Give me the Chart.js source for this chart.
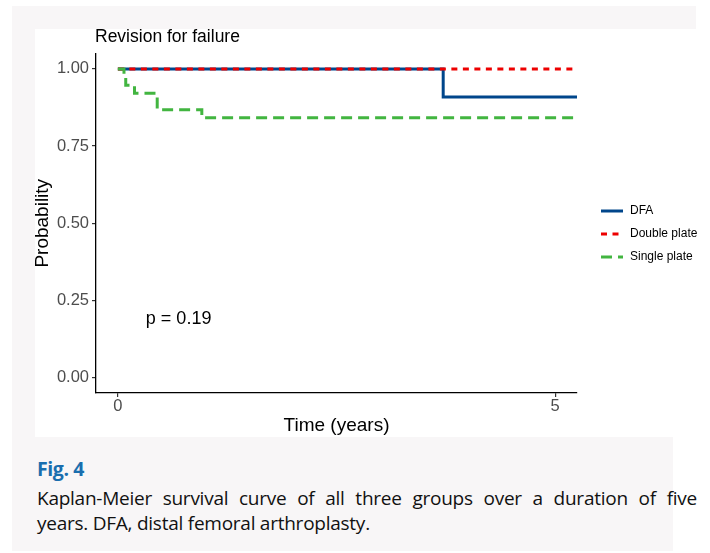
<!DOCTYPE html>
<html>
<head>
<meta charset="utf-8">
<script src="https://cdn.jsdelivr.net/npm/chart.js@4/dist/chart.umd.min.js"></script>
<style>
  html, body { margin:0; padding:0; background:#ffffff; }
  body { width:710px; height:553px; position:relative; overflow:hidden; }
  .g { position:absolute; background:#f8f6f7; }
  #panel { position:absolute; left:35px; top:29px; width:675px; height:408px; background:#ffffff; }
  #c { position:absolute; left:0; top:0; }
  #fig { position:absolute; left:37px; top:455px; font-family:"Open Sans","Noto Sans",sans-serif; font-weight:700; font-size:19.5px; color:#1a6eae; letter-spacing:-0.4px; }
  .cap { position:absolute; left:37px; width:660px; font-family:"Open Sans","Noto Sans",sans-serif; font-size:19px; color:#111; white-space:nowrap; letter-spacing:-0.25px; line-height:25px; }
  #l1 { top:486px; text-align:justify; text-align-last:justify; white-space:normal; }
  #l2 { top:511px; }
</style>
</head>
<body>
<div class="g" style="left:12px;top:6px;width:684px;height:23px"></div>
<div class="g" style="left:12px;top:6px;width:23px;height:545px"></div>
<div class="g" style="left:12px;top:437px;width:661px;height:114px"></div>
<div id="panel"></div>
<canvas id="c" width="710" height="437"></canvas>
<div id="fig">Fig. 4</div>
<div class="cap" id="l1">Kaplan-Meier survival curve of all three groups over a duration of five</div>
<div class="cap" id="l2">years. DFA, distal femoral arthroplasty.</div>
<script>
// ---- data ----
const groupNames = ["DFA", "Double plate", "Single plate"];
const dfaTime = [0, 3.72, 5.25];
const dfaSurv = [1, 0.909, 0.909];
const doubleTime = [0, 5.25];
const doubleSurv = [1, 1];
const singleTime = [0, 0.07, 0.09, 0.19, 0.45, 0.96, 5.25];
const singleSurv = [1, 0.974, 0.947, 0.921, 0.868, 0.842, 0.842];
const xTicks = [0, 5];
const yTicks = [0, 0.25, 0.5, 0.75, 1];
const pvalText = "p = 0.19";
const pvalPos = [0.32, 0.19];
const chartTitle = "Revision for failure";

const toPts = (t, s) => t.map((v, i) => ({ x: v, y: s[i] }));

const FONT = "'Liberation Sans', Arial, Helvetica, sans-serif";

const overlay = {
  id: 'overlay',
  afterDraw(chart) {
    const ctx = chart.ctx;
    const xs = chart.scales.x, ys = chart.scales.y;
    ctx.save();
    ctx.fillStyle = '#000';
    ctx.font = "17.5px " + FONT;
    ctx.textBaseline = 'middle';
    ctx.textAlign = 'left';
    ctx.fillText(chartTitle, chart.chartArea.left - 1, 37);
    ctx.font = "18px " + FONT;
    ctx.fillText(pvalText, xs.getPixelForValue(pvalPos[0]), ys.getPixelForValue(pvalPos[1]));
    ctx.font = "12px " + FONT;
    chart.data.datasets.forEach((ds, i) => {
      const y = 211 + 23 * i;
      ctx.beginPath();
      ctx.strokeStyle = ds.borderColor;
      ctx.lineWidth = 3;
      ctx.lineCap = 'butt';
      ctx.setLineDash(ds.borderDash || []);
      ctx.moveTo(601, y);
      ctx.lineTo(623, y);
      ctx.stroke();
      ctx.setLineDash([]);
      ctx.fillStyle = '#000';
      ctx.fillText(ds.label, 630, y);
    });
    ctx.restore();
  }
};

new Chart(document.getElementById('c'), {
  type: 'line',
  data: {
    datasets: [
      { label: groupNames[0], data: toPts(dfaTime, dfaSurv), borderColor: '#00468B', borderWidth: 3, stepped: 'before', pointRadius: 0, order: 3, borderCapStyle: 'butt' },
      { label: groupNames[1], data: toPts(doubleTime, doubleSurv), borderColor: '#ED0000', borderWidth: 3, borderDash: [6, 5.5], stepped: 'before', pointRadius: 0, order: 2, borderCapStyle: 'butt' },
      { label: groupNames[2], data: toPts(singleTime, singleSurv), borderColor: '#42B540', borderWidth: 3, borderDash: [11, 6], stepped: 'before', pointRadius: 0, order: 1, borderCapStyle: 'butt' }
    ]
  },
  options: {
    responsive: false,
    animation: false,
    devicePixelRatio: 1,
    layout: { padding: { left: 30, top: 53.5, right: 133, bottom: 0 } },
    plugins: { legend: { display: false }, tooltip: { enabled: false }, title: { display: false } },
    scales: {
      x: {
        type: 'linear', min: -0.25, max: 5.25,
        afterFit(s) { s.height = 44; },
        afterBuildTicks(s) { s.ticks = xTicks.map(v => ({ value: v })); },
        ticks: { color: '#4D4D4D', font: { family: FONT, size: 16.5 }, padding: 0, autoSkip: false, maxRotation: 0, callback: v => String(v) },
        grid: { display: true, drawOnChartArea: false, drawTicks: true, tickLength: 4, color: '#333', lineWidth: 1.2 },
        border: { display: true, color: '#000', width: 1.3 },
        title: { display: true, text: 'Time (years)', color: '#000', font: { family: FONT, size: 19 }, padding: { top: 0, bottom: 0 } }
      },
      y: {
        type: 'linear', min: -0.05, max: 1.05,
        afterFit(s) { s.width = 66; },
        afterBuildTicks(s) { s.ticks = yTicks.map(v => ({ value: v })); },
        ticks: { color: '#4D4D4D', font: { family: FONT, size: 16.5 }, padding: 3, autoSkip: false, callback: v => Number(v).toFixed(2) },
        grid: { display: true, drawOnChartArea: false, drawTicks: true, tickLength: 4, color: '#333', lineWidth: 1.2 },
        border: { display: true, color: '#000', width: 1.3 },
        title: { display: true, text: 'Probability', color: '#000', font: { family: FONT, size: 19 }, padding: { top: 1.6, bottom: 0 } }
      }
    }
  },
  plugins: [overlay]
});
</script>
</body>
</html>
